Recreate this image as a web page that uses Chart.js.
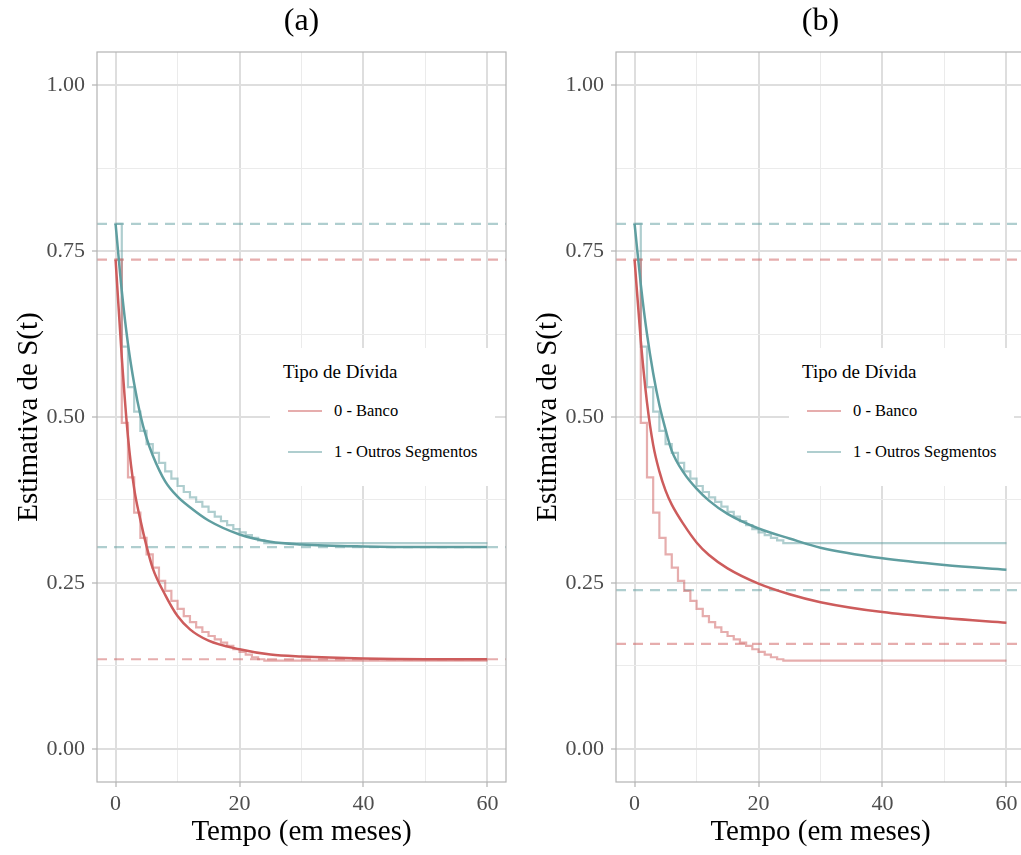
<!DOCTYPE html>
<html>
<head>
<meta charset="utf-8">
<script src="https://cdn.jsdelivr.net/npm/chart.js@4.4.1/dist/chart.umd.min.js"></script>
<style>
html, body { margin: 0; padding: 0; background: #fff; }
body { width: 1021px; height: 855px; overflow: hidden; position: relative; font-family: 'Liberation Serif', serif; }
.panel { position: absolute; top: 0; width: 510px; height: 855px; }
.legend { position: absolute; left: 270px; top: 348px; width: 225px; height: 138px; background: #fff; color: #000; }
.legend .ttl { position: absolute; left: 13px; top: 12px; font-size: 19px; line-height: 24px; white-space: nowrap; }
.legend .item { position: absolute; left: 18px; height: 22px; font-size: 16.5px; line-height: 22px; white-space: nowrap; }
.legend .key { position: absolute; left: 0; top: 10px; width: 34px; height: 2px; }
.legend .lab { position: absolute; left: 46px; top: 0; }
</style>
</head>
<body>
<div class="panel" id="pa" style="left:0px"><canvas id="chartA" width="510" height="855"></canvas></div>
<div class="panel" id="pb" style="left:519px"><canvas id="chartB" width="510" height="855"></canvas></div>
<script>
// Kaplan-Meier steps (same data in both panels)
const kmTimes = [0, 1, 2, 3, 4, 5, 6, 7, 8, 9, 10, 11, 12, 13, 14, 15, 16, 17, 18, 19, 20, 21, 22, 23, 24, 60];
const kmBanco = [0.737, 0.491, 0.409, 0.356, 0.318, 0.293, 0.273, 0.253, 0.238, 0.223, 0.211, 0.200, 0.191, 0.183, 0.176, 0.170, 0.165, 0.160, 0.155, 0.150, 0.146, 0.142, 0.138, 0.135, 0.133, 0.133];
const kmOutros = [0.791, 0.606, 0.545, 0.508, 0.479, 0.459, 0.446, 0.431, 0.418, 0.407, 0.396, 0.387, 0.379, 0.372, 0.365, 0.357, 0.350, 0.343, 0.337, 0.331, 0.326, 0.322, 0.318, 0.314, 0.310, 0.310];

// fitted curves
const fitTimes = [0, 1, 2, 3, 4, 5, 6, 8, 10, 12, 15, 20, 25, 30, 40, 50, 60];
const fitBancoA = [0.737, 0.590, 0.470, 0.392, 0.345, 0.305, 0.272, 0.232, 0.200, 0.180, 0.163, 0.150, 0.142, 0.139, 0.136, 0.135, 0.135];
const fitOutrosA = [0.791, 0.690, 0.610, 0.550, 0.503, 0.468, 0.442, 0.403, 0.380, 0.364, 0.344, 0.323, 0.312, 0.308, 0.305, 0.304, 0.304];
const fitBancoB = [0.737, 0.615, 0.522, 0.458, 0.418, 0.389, 0.368, 0.337, 0.311, 0.292, 0.272, 0.249, 0.233, 0.221, 0.206, 0.197, 0.190];
const fitOutrosB = [0.791, 0.700, 0.625, 0.566, 0.518, 0.481, 0.449, 0.415, 0.392, 0.374, 0.354, 0.332, 0.317, 0.303, 0.287, 0.277, 0.270];

// dashed reference levels [start, plateau]
const levelsBancoA = [0.737, 0.135];
const levelsOutrosA = [0.791, 0.304];
const levelsBancoB = [0.737, 0.158];
const levelsOutrosB = [0.791, 0.239];

const groups = ['0 - Banco', '1 - Outros Segmentos'];
const xTicks = [0, 10, 20, 30, 40, 50, 60];
const xMajor = [0, 20, 40, 60];
const yTicks = [0, 0.125, 0.25, 0.375, 0.5, 0.625, 0.75, 0.875, 1];
const yMajor = [0, 0.25, 0.5, 0.75, 1];
const xMin = -3, xMax = 63, yMin = -0.05, yMax = 1.05;

const RED = 'rgb(205,92,92)';
const TEAL = 'rgb(95,158,160)';
const RED_L = 'rgba(205,92,92,0.5)';
const TEAL_L = 'rgba(95,158,160,0.5)';
const FONT = "'Liberation Serif', 'Times New Roman', serif";

function pts(xs, ys) { return xs.map((x, i) => ({x: x, y: ys[i]})); }
function hline(y) { return [{x: xMin, y: y}, {x: xMax, y: y}]; }

const panelBorder = {
    id: 'panelBorder',
    afterDatasetsDraw(chart) {
        const {ctx, chartArea: a} = chart;
        ctx.save();
        ctx.strokeStyle = '#b3b3b3';
        ctx.lineWidth = 1.2;
        ctx.strokeRect(a.left, a.top, a.right - a.left, a.bottom - a.top);
        ctx.restore();
    }
};

function dashed(y, color) {
    return {data: hline(y), borderColor: color, borderWidth: 2.2, borderDash: [10, 7], order: 3};
}

function makeChart(canvas, label, fitBanco, fitOutros, lvBanco, lvOutros) {
    const datasets = [
        dashed(lvBanco[0], RED_L), dashed(lvBanco[1], RED_L),
        dashed(lvOutros[0], TEAL_L), dashed(lvOutros[1], TEAL_L),
        {data: pts(kmTimes, kmBanco), borderColor: RED_L, borderWidth: 2.2, stepped: 'before', order: 2},
        {data: pts(kmTimes, kmOutros), borderColor: TEAL_L, borderWidth: 2.2, stepped: 'before', order: 2},
        {data: pts(fitTimes, fitBanco), borderColor: RED, borderWidth: 2.5, cubicInterpolationMode: 'monotone', order: 1},
        {data: pts(fitTimes, fitOutros), borderColor: TEAL, borderWidth: 2.5, cubicInterpolationMode: 'monotone', order: 1}
    ];

    return new Chart(canvas, {
        type: 'line',
        data: {datasets: datasets},
        options: {
            responsive: false,
            animation: false,
            devicePixelRatio: 1,
            elements: {point: {radius: 0}, line: {fill: false}},
            layout: {padding: {left: 0, right: 4, top: 0, bottom: 0}},
            plugins: {
                legend: {display: false},
                tooltip: {enabled: false},
                title: {
                    display: true, text: label, color: '#000', fullSize: false,
                    font: {family: FONT, size: 32, weight: 'normal', lineHeight: 1.2},
                    padding: {top: 2, bottom: 11.6}
                }
            },
            scales: {
                x: {
                    type: 'linear', min: xMin, max: xMax,
                    afterBuildTicks: s => { s.ticks = xTicks.map(v => ({value: v})); },
                    afterFit: s => { s.height = 73; },
                    border: {display: false},
                    grid: {
                        color: c => xMajor.includes(c.tick.value) ? '#dedede' : '#ebebeb',
                        lineWidth: c => xMajor.includes(c.tick.value) ? 2 : 1,
                        tickColor: c => xMajor.includes(c.tick.value) ? '#b3b3b3' : 'rgba(0,0,0,0)',
                        tickLength: 5, tickWidth: 1.2
                    },
                    ticks: {
                        callback: v => xMajor.includes(v) ? String(v) : '',
                        color: '#4d4d4d', font: {family: FONT, size: 22}, padding: 4,
                        maxRotation: 0, autoSkip: false
                    },
                    title: {
                        display: true, text: 'Tempo (em meses)', color: '#000',
                        font: {family: FONT, size: 29, lineHeight: 1.2}, padding: {top: 0, bottom: 5.6}
                    }
                },
                y: {
                    type: 'linear', min: yMin, max: yMax,
                    afterBuildTicks: s => { s.ticks = yTicks.map(v => ({value: v})); },
                    afterFit: s => { s.width = 97; },
                    border: {display: false},
                    grid: {
                        color: c => yMajor.includes(c.tick.value) ? '#dedede' : '#ebebeb',
                        lineWidth: c => yMajor.includes(c.tick.value) ? 2 : 1,
                        tickColor: c => yMajor.includes(c.tick.value) ? '#b3b3b3' : 'rgba(0,0,0,0)',
                        tickLength: 5, tickWidth: 1.2
                    },
                    ticks: {
                        callback: v => yMajor.includes(v) ? v.toFixed(2) : '',
                        color: '#4d4d4d', font: {family: FONT, size: 22}, padding: 7, autoSkip: false
                    },
                    title: {
                        display: true, text: 'Estimativa de S(t)', color: '#000',
                        font: {family: FONT, size: 29, lineHeight: 1.2}, padding: {top: 12, bottom: 0}
                    }
                }
            }
        },
        plugins: [panelBorder]
    });
}

function addLegend(panelId) {
    const box = document.createElement('div');
    box.className = 'legend';
    let html = '<div class="ttl">Tipo de Dívida</div>';
    const colors = [RED_L, TEAL_L];
    const tops = [52, 93];
    groups.forEach((g, i) => {
        html += '<div class="item" style="top:' + tops[i] + 'px"><div class="key" style="background:' + colors[i] + '"></div><div class="lab">' + g + '</div></div>';
    });
    box.innerHTML = html;
    document.getElementById(panelId).appendChild(box);
}

makeChart(document.getElementById('chartA'), '(a)', fitBancoA, fitOutrosA, levelsBancoA, levelsOutrosA);
makeChart(document.getElementById('chartB'), '(b)', fitBancoB, fitOutrosB, levelsBancoB, levelsOutrosB);
addLegend('pa');
addLegend('pb');
</script>
</body>
</html>
